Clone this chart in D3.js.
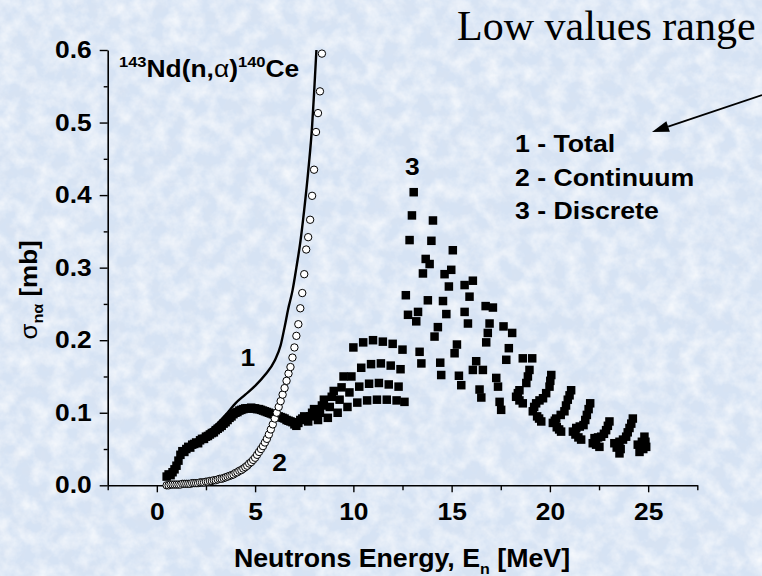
<!DOCTYPE html>
<html>
<head>
<meta charset="utf-8">
<script src="https://cdn.jsdelivr.net/npm/d3@7"></script>
<style>
  html, body { margin: 0; padding: 0; background: #d8e5f5; }
  svg { display: block; }
</style>
</head>
<body>
<svg id="chart" width="762" height="576"></svg>
<script>
// Axis ticks
const xTickValues = [0, 5, 10, 15, 20, 25];
const xMinorTicks = [-2.5, 2.5, 7.5, 12.5, 17.5, 22.5, 27.5];
const yTickValues = [0.0, 0.1, 0.2, 0.3, 0.4, 0.5, 0.6];
const yMinorTicks = [0.05, 0.15, 0.25, 0.35, 0.45, 0.55];

// Legend lines and curve numbers
const legendLines = ["1 - Total", "2 - Continuum", "3 - Discrete"];
const curveNumbers = ["1", "2", "3"];

// 1 - Total cross section, [E (MeV), sigma (mb)]
const totalCurve = [
  [0.5, 0.014], [0.8, 0.021], [1.0, 0.029], [1.2, 0.045], [1.5, 0.054],
  [2.0, 0.063], [2.5, 0.072], [3.0, 0.083], [3.5, 0.097], [4.0, 0.113],
  [4.5, 0.125], [5.0, 0.137], [5.5, 0.152], [6.0, 0.172], [6.3, 0.193],
  [6.5, 0.218], [6.7, 0.245], [6.9, 0.268], [7.1, 0.300], [7.3, 0.335],
  [7.5, 0.380], [7.7, 0.432], [7.9, 0.495], [8.0, 0.540], [8.12, 0.600]
];

// 2 - Continuum contribution
const continuumPoints = [
  [0.5, 0.000], [0.6, 0.000], [0.7, 0.001], [0.8, 0.001], [0.9, 0.001],
  [1.0, 0.001], [1.1, 0.001], [1.2, 0.001], [1.3, 0.002], [1.4, 0.002],
  [1.5, 0.002], [1.6, 0.002], [1.7, 0.002], [1.8, 0.003], [1.9, 0.003],
  [2.0, 0.003], [2.1, 0.003], [2.2, 0.004], [2.3, 0.004], [2.4, 0.004],
  [2.5, 0.005], [2.6, 0.005], [2.7, 0.006], [2.8, 0.006], [2.9, 0.007],
  [3.0, 0.007], [3.1, 0.008], [3.2, 0.009], [3.3, 0.009], [3.4, 0.010],
  [3.5, 0.011], [3.6, 0.012], [3.7, 0.013], [3.8, 0.014], [3.9, 0.015],
  [4.0, 0.017], [4.1, 0.018], [4.2, 0.020], [4.3, 0.021], [4.4, 0.023],
  [4.5, 0.025], [4.6, 0.027], [4.7, 0.030], [4.8, 0.032], [4.9, 0.035],
  [5.0, 0.038], [5.1, 0.042], [5.2, 0.046], [5.3, 0.050], [5.4, 0.054],
  [5.5, 0.059], [5.6, 0.064], [5.7, 0.070], [5.8, 0.077], [5.9, 0.084],
  [6.0, 0.092], [6.1, 0.100], [6.2, 0.108], [6.3, 0.116], [6.4, 0.125],
  [6.5, 0.134], [6.6, 0.144], [6.7, 0.154], [6.8, 0.163], [6.9, 0.176],
  [7.0, 0.190], [7.1, 0.206], [7.2, 0.222], [7.3, 0.244], [7.4, 0.265],
  [7.5, 0.291], [7.6, 0.325], [7.7, 0.342], [7.8, 0.366], [7.9, 0.399],
  [8.0, 0.435], [8.1, 0.487], [8.2, 0.513], [8.3, 0.543], [8.4, 0.595]
];

// 3 - Discrete levels contribution
const discretePoints = [
  [0.5, 0.012], [0.6, 0.015], [0.7, 0.014], [0.8, 0.018], [0.9, 0.022],
  [1.0, 0.027], [1.1, 0.034], [1.2, 0.042], [1.3, 0.047], [1.4, 0.046],
  [1.5, 0.050], [1.6, 0.053], [1.7, 0.052], [1.8, 0.056], [1.9, 0.057],
  [2.0, 0.059], [2.1, 0.058], [2.2, 0.062], [2.3, 0.064], [2.4, 0.064],
  [2.5, 0.067], [2.6, 0.068], [2.7, 0.070], [2.8, 0.072], [2.9, 0.073],
  [3.0, 0.076], [3.1, 0.078], [3.2, 0.080], [3.3, 0.082], [3.4, 0.085],
  [3.5, 0.087], [3.6, 0.090], [3.7, 0.093], [3.8, 0.095], [3.9, 0.098],
  [4.0, 0.100], [4.1, 0.101], [4.2, 0.103], [4.3, 0.104], [4.4, 0.105],
  [4.5, 0.106], [4.6, 0.106], [4.7, 0.106], [4.8, 0.107], [4.9, 0.106],
  [5.0, 0.106], [5.1, 0.105], [5.2, 0.105], [5.3, 0.104], [5.4, 0.103],
  [5.5, 0.102], [5.6, 0.101], [5.7, 0.100], [5.8, 0.099], [5.9, 0.098],
  [6.0, 0.097], [6.1, 0.096], [6.2, 0.095], [6.3, 0.094], [6.4, 0.093],
  [6.5, 0.092], [6.6, 0.090], [6.7, 0.089], [6.8, 0.088], [6.9, 0.087],
  [7.0, 0.084], [7.1, 0.082],
  [7.2, 0.086], [7.7, 0.088], [8.2, 0.090], [8.7, 0.093], [9.2, 0.100],
  [9.7, 0.108], [10.2, 0.114], [10.7, 0.117], [11.2, 0.118], [11.7, 0.118],
  [12.2, 0.117], [12.6, 0.115],
  [7.3, 0.090], [7.8, 0.095], [8.3, 0.100], [8.8, 0.108], [9.3, 0.118],
  [9.8, 0.128], [10.3, 0.136], [10.8, 0.140], [11.3, 0.141], [11.8, 0.139],
  [12.3, 0.136],
  [7.4, 0.092], [7.9, 0.100], [8.4, 0.110], [8.9, 0.122], [9.4, 0.135],
  [9.9, 0.150], [10.4, 0.162], [10.9, 0.167], [11.4, 0.168], [11.9, 0.165],
  [12.4, 0.160],
  [7.5, 0.095], [8.0, 0.105], [8.5, 0.118], [9.0, 0.130], [9.5, 0.150],
  [10.0, 0.190], [10.5, 0.197], [11.0, 0.200], [11.5, 0.198], [12.0, 0.195],
  [12.5, 0.187],
  [12.67, 0.262], [12.78, 0.235], [12.86, 0.338], [12.98, 0.372], [13.07, 0.404],
  [13.2, 0.226], [13.29, 0.239], [13.37, 0.184], [13.46, 0.168], [13.54, 0.292],
  [13.68, 0.312], [13.79, 0.255], [13.88, 0.305], [13.97, 0.337], [14.05, 0.365],
  [14.13, 0.205], [14.3, 0.218], [14.42, 0.169], [14.47, 0.152], [14.56, 0.254],
  [14.64, 0.291], [14.73, 0.236], [14.86, 0.274], [14.98, 0.297], [15.06, 0.324],
  [15.15, 0.182], [15.27, 0.194], [15.37, 0.151], [15.49, 0.138], [15.66, 0.276],
  [15.66, 0.239], [15.83, 0.223], [15.91, 0.260], [16.08, 0.282], [16.08, 0.159],
  [16.25, 0.171], [16.42, 0.132], [16.51, 0.121], [16.59, 0.159], [16.73, 0.247],
  [16.76, 0.197], [16.84, 0.210], [16.93, 0.223], [17.1, 0.245], [17.27, 0.148],
  [17.36, 0.136], [17.44, 0.115], [17.52, 0.104], [17.64, 0.219], [17.78, 0.173],
  [17.91, 0.189], [18.08, 0.210],
  [18.28, 0.122], [18.37, 0.127], [18.45, 0.131], [18.45, 0.117], [18.62, 0.113],
  [18.62, 0.175], [18.8, 0.141], [18.88, 0.150], [18.96, 0.159], [19.1, 0.175],
  [19.13, 0.102], [19.2, 0.108], [19.3, 0.113], [19.35, 0.095], [19.45, 0.092],
  [19.47, 0.117], [19.56, 0.088], [19.65, 0.120], [19.81, 0.127], [19.98, 0.136],
  [20.02, 0.144], [20.07, 0.152],
  [20.15, 0.086], [20.25, 0.089], [20.32, 0.092], [20.35, 0.080], [20.47, 0.077],
  [20.55, 0.097], [20.57, 0.074], [20.74, 0.102], [20.82, 0.110], [20.91, 0.118],
  [21.0, 0.124], [21.08, 0.131],
  [21.17, 0.074], [21.3, 0.070], [21.34, 0.079], [21.45, 0.066], [21.52, 0.081],
  [21.59, 0.063], [21.71, 0.083], [21.8, 0.090], [21.88, 0.097], [21.97, 0.105],
  [22.05, 0.113],
  [22.18, 0.058], [22.27, 0.065], [22.35, 0.056], [22.45, 0.066], [22.52, 0.053],
  [22.61, 0.067], [22.75, 0.071], [22.86, 0.076], [22.95, 0.082], [23.03, 0.088],
  [23.28, 0.058], [23.4, 0.052], [23.54, 0.060], [23.54, 0.044], [23.6, 0.050],
  [23.72, 0.063], [23.88, 0.067], [23.96, 0.073], [24.05, 0.079], [24.14, 0.085],
  [24.22, 0.092],
  [24.47, 0.056], [24.56, 0.046], [24.68, 0.060], [24.75, 0.050], [24.81, 0.067],
  [24.86, 0.060], [24.9, 0.053]
];

const W = 762, H = 576;
const svg = d3.select("#chart");
const defs = svg.append("defs");

// Mottled light-blue paper background
const fLight = defs.append("filter").attr("id", "mottleLight")
  .attr("x", 0).attr("y", 0).attr("width", "100%").attr("height", "100%");
fLight.append("feTurbulence").attr("type", "fractalNoise")
  .attr("baseFrequency", 0.06).attr("numOctaves", 4).attr("seed", 7);
fLight.append("feColorMatrix").attr("type", "matrix")
  .attr("values", "0 0 0 0 1  0 0 0 0 1  0 0 0 0 1  1.3 0 0 0 -0.45");

const fDark = defs.append("filter").attr("id", "mottleDark")
  .attr("x", 0).attr("y", 0).attr("width", "100%").attr("height", "100%");
fDark.append("feTurbulence").attr("type", "fractalNoise")
  .attr("baseFrequency", 0.08).attr("numOctaves", 3).attr("seed", 21);
fDark.append("feColorMatrix").attr("type", "matrix")
  .attr("values", "0 0 0 0 0.70  0 0 0 0 0.77  0 0 0 0 0.88  1.2 0 0 0 -0.45");

svg.append("rect").attr("width", W).attr("height", H).attr("fill", "#d6e3f4");
svg.append("rect").attr("width", W).attr("height", H).attr("filter", "url(#mottleDark)");
svg.append("rect").attr("width", W).attr("height", H).attr("filter", "url(#mottleLight)");

// Scales
const x = d3.scaleLinear().domain([-2.5, 27.5]).range([107.7, 697.3]);
const y = d3.scaleLinear().domain([0, 0.6]).range([485.3, 50]);

const boldFont = "'Liberation Sans', Arial, sans-serif";
const labelStretch = 1.1;   // wide bold lettering

// Axes
svg.append("g").attr("transform", `translate(0,${y(0)})`)
  .call(d3.axisBottom(x).tickValues(xTickValues).tickSize(7).tickSizeOuter(0)
    .tickPadding(11).tickFormat(d3.format("d")));
svg.append("g").attr("transform", `translate(0,${y(0)})`)
  .call(d3.axisBottom(x).tickValues(xMinorTicks).tickSize(5).tickSizeOuter(0)
    .tickFormat(""))
  .call(g => g.select(".domain").remove());

svg.append("g").attr("class", "yax").attr("transform", `translate(${x(-2.5)},0)`)
  .call(d3.axisLeft(y).tickValues(yTickValues).tickSize(8).tickSizeOuter(0)
    .tickPadding(8).tickFormat(d3.format(".1f")));
svg.append("g").attr("transform", `translate(${x(-2.5)},0)`)
  .call(d3.axisLeft(y).tickValues(yMinorTicks).tickSize(4).tickSizeOuter(0)
    .tickFormat(""))
  .call(g => g.select(".domain").remove());

svg.selectAll(".domain").attr("stroke", "#000").attr("stroke-width", 1.6);
svg.selectAll(".tick line").attr("stroke", "#000").attr("stroke-width", 1.4);
svg.selectAll(".tick text")
  .attr("fill", "#000")
  .style("font-family", boldFont)
  .style("font-weight", "bold")
  .style("font-size", "24px")
  .attr("transform", `scale(${labelStretch},1)`);
svg.selectAll(".yax .tick text").attr("x", -16 / labelStretch);

// Total curve
svg.append("path")
  .datum(totalCurve)
  .attr("fill", "none")
  .attr("stroke", "#000")
  .attr("stroke-width", 2.4)
  .attr("d", d3.line().x(d => x(d[0])).y(d => y(d[1])).curve(d3.curveMonotoneX));

// Discrete contribution: filled squares
const sq = 8.5;
svg.append("g").selectAll("rect")
  .data(discretePoints)
  .join("rect")
  .attr("x", d => x(d[0]) - sq / 2)
  .attr("y", d => y(d[1]) - sq / 2)
  .attr("width", sq)
  .attr("height", sq)
  .attr("fill", "#000");

// Continuum contribution: open circles
svg.append("g").selectAll("circle")
  .data(continuumPoints)
  .join("circle")
  .attr("cx", d => x(d[0]))
  .attr("cy", d => y(d[1]))
  .attr("r", 3.7)
  .attr("fill", "#fff")
  .attr("stroke", "#000")
  .attr("stroke-width", 1);

// Helper: bold text placed at (px, py), widened horizontally
function wideText(px, py, size, sx, anchor) {
  return svg.append("text")
    .attr("transform", `translate(${px},${py}) scale(${sx},1)`)
    .attr("text-anchor", anchor || "start")
    .style("font-family", boldFont)
    .style("font-weight", "bold")
    .style("font-size", size + "px");
}

// Curve numbers
const numberSpots = [[4.63, 0.177], [6.25, 0.031], [13.0, 0.439]];
curveNumbers.forEach((label, i) => {
  wideText(x(numberSpots[i][0]), y(numberSpots[i][1]), 24, labelStretch, "middle")
    .attr("dy", "0.36em")
    .text(label);
});

// Reaction label
const title = wideText(119, 77, 24, 1.1);
title.append("tspan").style("font-size", "15px").attr("dy", -10).text("143");
title.append("tspan").attr("dy", 10).text("Nd(n,");
title.append("tspan").style("font-weight", "normal").text("α");
title.append("tspan").text(")");
title.append("tspan").style("font-size", "15px").attr("dy", -10).text("140");
title.append("tspan").attr("dy", 10).text("Ce");

// Legend
legendLines.forEach((line, i) => {
  wideText(515, 152 + i * 33.5, 23, 1.16).text(line);
});

// Annotation with arrow
svg.append("text")
  .attr("x", 457).attr("y", 40)
  .style("font-family", "'Liberation Serif', 'Times New Roman', serif")
  .style("font-size", "42px")
  .text("Low values range");

const tail = [762, 95], tip = [652, 132];
const ang = Math.atan2(tip[1] - tail[1], tip[0] - tail[0]);
const headLen = 17, headHalf = 5.5;
const base = [tip[0] - headLen * Math.cos(ang), tip[1] - headLen * Math.sin(ang)];
svg.append("line")
  .attr("x1", tail[0]).attr("y1", tail[1])
  .attr("x2", base[0]).attr("y2", base[1])
  .attr("stroke", "#000").attr("stroke-width", 1.8);
svg.append("polygon")
  .attr("points", [
    tip,
    [base[0] + headHalf * Math.sin(ang), base[1] - headHalf * Math.cos(ang)],
    [base[0] - headHalf * Math.sin(ang), base[1] + headHalf * Math.cos(ang)]
  ].map(p => p.join(",")).join(" "))
  .attr("fill", "#000");

// Axis titles
const xTitle = wideText(402, 567, 25, 1.07, "middle");
xTitle.append("tspan").text("Neutrons Energy, E");
xTitle.append("tspan").style("font-size", "15px").attr("dy", 7).text("n");
xTitle.append("tspan").attr("dy", -7).text(" [MeV]");

const yTitle = svg.append("text")
  .attr("transform", "translate(37,290) rotate(-90) scale(1.08,1)")
  .attr("text-anchor", "middle")
  .style("font-family", boldFont)
  .style("font-weight", "bold")
  .style("font-size", "24px");
yTitle.append("tspan").style("font-weight", "normal").text("σ");
yTitle.append("tspan").style("font-size", "15px").attr("dy", 6).text("nα");
yTitle.append("tspan").attr("dy", -6).text(" [mb]");
</script>
</body>
</html>
